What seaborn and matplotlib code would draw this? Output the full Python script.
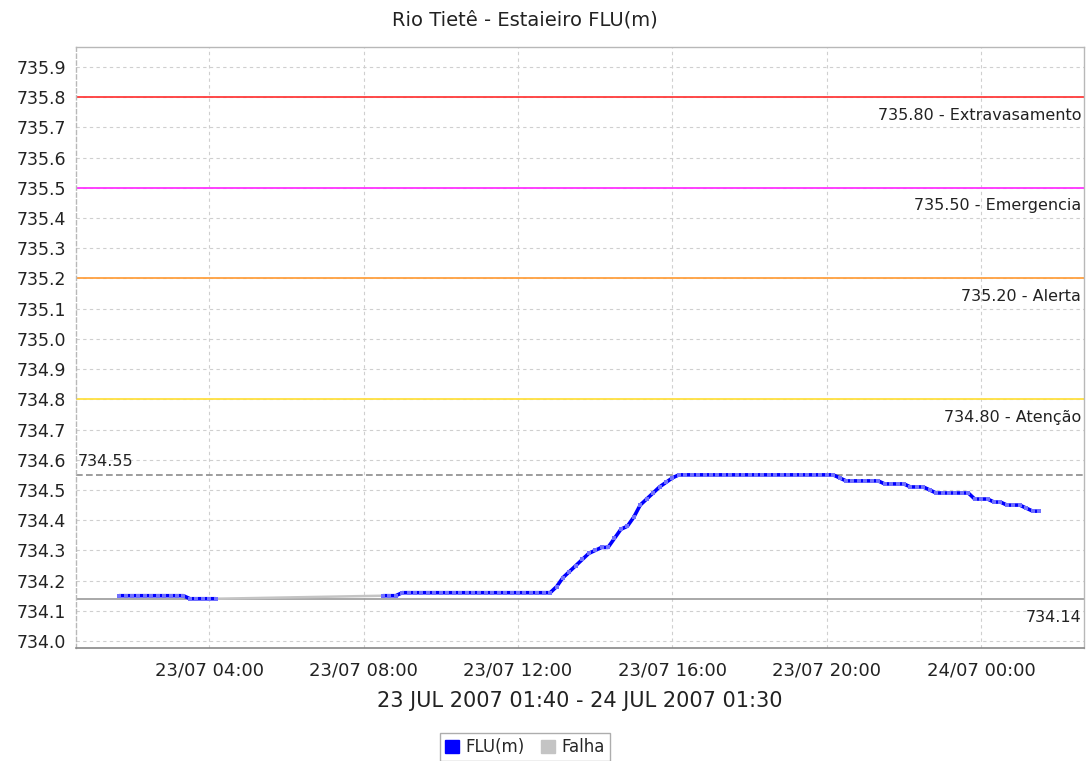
import numpy as np
import pandas as pd
import matplotlib
matplotlib.use('Agg')
from matplotlib import pyplot as plt
import matplotlib.dates as mdates
import matplotlib.transforms as mtransforms
from matplotlib.patches import Patch
import seaborn as sns

# readings every 10 min, 23/07/2007 01:40 -> 24/07/2007 01:30 (nan = sensor failure)
start = '2007-07-23 01:40'
flu_values = [
    734.15, 734.15, 734.15, 734.15, 734.15, 734.15, 734.15, 734.15, 734.15, 734.15, 734.15, 734.14,
    734.14, 734.14, 734.14, 734.14, np.nan, np.nan, np.nan, np.nan, np.nan, np.nan, np.nan, np.nan,
    np.nan, np.nan, np.nan, np.nan, np.nan, np.nan, np.nan, np.nan, np.nan, np.nan, np.nan, np.nan,
    np.nan, np.nan, np.nan, np.nan, np.nan, 734.15, 734.15, 734.15, 734.16, 734.16, 734.16, 734.16,
    734.16, 734.16, 734.16, 734.16, 734.16, 734.16, 734.16, 734.16, 734.16, 734.16, 734.16, 734.16,
    734.16, 734.16, 734.16, 734.16, 734.16, 734.16, 734.16, 734.16, 734.18, 734.21, 734.23, 734.25,
    734.27, 734.29, 734.30, 734.31, 734.31, 734.34, 734.37, 734.38, 734.41, 734.45, 734.47, 734.49,
    734.51, 734.525, 734.54, 734.55, 734.55, 734.55, 734.55, 734.55, 734.55, 734.55, 734.55, 734.55,
    734.55, 734.55, 734.55, 734.55, 734.55, 734.55, 734.55, 734.55, 734.55, 734.55, 734.55, 734.55,
    734.55, 734.55, 734.55, 734.55, 734.54, 734.53, 734.53, 734.53, 734.53, 734.53, 734.53, 734.52,
    734.52, 734.52, 734.52, 734.51, 734.51, 734.51, 734.50, 734.49, 734.49, 734.49, 734.49, 734.49,
    734.49, 734.47, 734.47, 734.47, 734.46, 734.46, 734.45, 734.45, 734.45, 734.44, 734.43, 734.43,
]
falha_times = ['2007-07-23 04:10', '2007-07-23 08:30']
falha_values = [734.14, 734.15]

thresholds = [735.80, 735.50, 735.20, 734.80]
threshold_names = ['Extravasamento', 'Emergencia', 'Alerta', 'Atenção']
threshold_colors = ['#ff3b3b', '#ff33ff', '#ffa040', '#ffe040']
max_level = 734.55
min_level = 734.14

df = pd.DataFrame({
    'time': pd.date_range(start, periods=len(flu_values), freq='10min'),
    'flu': flu_values,
})
# split into runs so the line breaks at the failure gap
df['run'] = df['flu'].isna().cumsum()
df = df.dropna()

sns.set_style('white')
plt.rcParams['font.family'] = ['DejaVu Sans']
plt.rcParams['font.size'] = 12.5

fig = plt.figure(figsize=(10.88, 7.61), dpi=100)
ax = fig.add_axes([0.0699, 0.1485, 0.9265, 0.7897])

grid_kw = dict(color='#cfcfcf', lw=0.8, ls=(0, (3, 3)))
ax.grid(True, **grid_kw)
ax.set_axisbelow(True)

for val, name, c in zip(thresholds, threshold_names, threshold_colors):
    ax.axhline(val, color=c, lw=1.3, zorder=2)
    ax.text(0.997, val - 0.06, '{:.2f} - {}'.format(val, name),
            transform=mtransforms.blended_transform_factory(ax.transAxes, ax.transData),
            ha='right', va='center', fontsize=11.5, color='#222222')

ax.axhline(max_level, color='#8c8c8c', lw=1.2, ls=(0, (4, 2)), zorder=2)
ax.text(0.002, max_level + 0.045, '{:.2f}'.format(max_level),
        transform=mtransforms.blended_transform_factory(ax.transAxes, ax.transData),
        ha='left', va='center', fontsize=11.5, color='#222222')
ax.axhline(min_level, color='#999999', lw=1.2, zorder=2)
ax.text(0.997, min_level - 0.062, '{:.2f}'.format(min_level),
        transform=mtransforms.blended_transform_factory(ax.transAxes, ax.transData),
        ha='right', va='center', fontsize=11.5, color='#222222')

ax.plot(pd.to_datetime(falha_times), falha_values, color='#c4c4c4', lw=1.8, zorder=3)
sns.lineplot(data=df, x='time', y='flu', units='run', estimator=None,
             color='#0000ff', lw=2.6, marker='s', markersize=2.6,
             markeredgewidth=0, markerfacecolor='#7070ff', ax=ax, zorder=4,
             legend=False)

ax.set_xlim(pd.Timestamp('2007-07-23 00:33'), pd.Timestamp('2007-07-24 02:40'))
ax.set_ylim(733.977, 735.966)
ax.set_yticks(np.arange(734.0, 735.95, 0.1))
ax.yaxis.set_major_formatter(plt.FormatStrFormatter('%.1f'))
ax.xaxis.set_major_locator(mdates.HourLocator(byhour=[0, 4, 8, 12, 16, 20]))
ax.xaxis.set_major_formatter(mdates.DateFormatter('%d/%m %H:%M'))
ax.tick_params(axis='both', direction='out', length=4, width=1, color='#888888',
               labelcolor='#222222', labelsize=12.5, pad=3)
ax.tick_params(axis='x', labelsize=13, pad=6)

for side in ['top', 'right', 'left']:
    ax.spines[side].set_color('#b8b8b8')
    ax.spines[side].set_linewidth(1)
ax.spines['left'].set_linestyle((0, (3, 2)))
ax.spines['bottom'].set_color('#888888')
ax.spines['bottom'].set_linewidth(1.2)

ax.set_ylabel('')
ax.set_xlabel('23 JUL 2007 01:40 - 24 JUL 2007 01:30', fontsize=15,
              color='#222222', labelpad=8)

fig.text(525 / 1088, 1 - 20 / 761, 'Rio Tietê - Estaieiro FLU(m)',
         ha='center', va='center', fontsize=14, color='#222222')

handles = [Patch(facecolor='#0000ff', edgecolor='#0000ff', label='FLU(m)'),
           Patch(facecolor='#c4c4c4', edgecolor='#c4c4c4', label='Falha')]
leg = fig.legend(handles=handles, loc='lower center', ncol=2,
                 bbox_to_anchor=(525 / 1088, -0.011), frameon=True, fancybox=False,
                 handlelength=0.8, handleheight=0.8, handletextpad=0.4,
                 columnspacing=1.0, borderpad=0.3, fontsize=12)
leg.get_frame().set_edgecolor('#999999')
leg.get_frame().set_linewidth(1)

fig.savefig('out.png', dpi=100)
